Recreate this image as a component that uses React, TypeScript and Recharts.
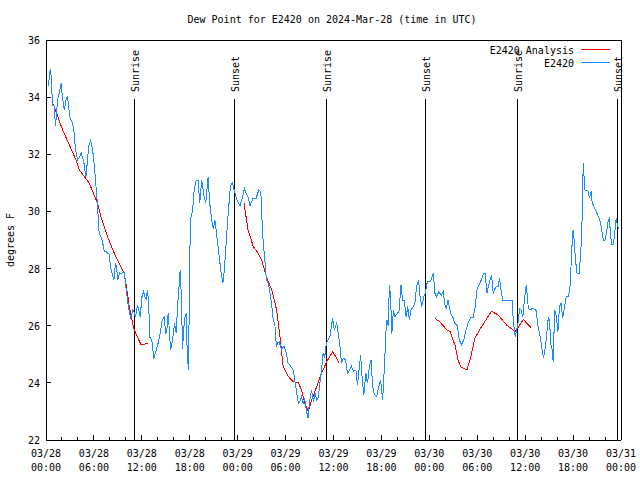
import React from "react";
import { LineChart, Line, XAxis, YAxis, ReferenceLine } from "recharts";

const FONT = "'DejaVu Sans Mono', 'Liberation Mono', monospace";
const BLUE = "#1a8cff";
const RED = "#ff0000";

// hours since 2024-03-28 00:00 UTC
const obsHours = [
  0.3, 0.45, 0.55, 0.7, 0.8, 1.0, 1.2, 1.45, 1.7, 1.9, 2.05, 2.3, 2.5, 2.7, 2.85, 3.0, 3.3, 3.5, 3.7, 3.95,
  4.2, 4.4, 4.55, 4.7, 4.85, 5.0, 5.2, 5.35, 5.6, 5.8, 5.95, 6.2, 6.45, 6.65, 6.9, 7.1, 7.3, 7.5, 7.7, 7.9,
  8.1, 8.3, 8.5, 8.7, 8.85, 9.0, 9.2, 9.4, 9.6, 9.8, 10.0, 10.2, 10.4, 10.6, 10.85, 11.0, 11.2, 11.45, 11.6, 11.8,
  12.0, 12.2, 12.4, 12.55, 12.7, 12.85, 13.0, 13.25, 13.5, 13.75, 14.05, 14.3, 14.55, 14.8, 15.0, 15.15, 15.3, 15.5, 15.6, 15.85,
  16.1, 16.3, 16.5, 16.7, 16.8, 16.95, 17.1, 17.25, 17.4, 17.55, 17.7, 17.85, 18.0, 18.15, 18.35, 18.55, 18.8, 19.05, 19.25, 19.5,
  19.75, 20.0, 20.3, 20.5, 20.75, 20.95, 21.15, 21.45, 21.7, 21.9, 22.15, 22.35, 22.6, 22.85, 23.1, 23.35, 23.6, 23.9, 24.3, 24.6,
  24.85, 25.1, 25.3, 25.55, 25.9, 26.3, 26.65, 26.9, 27.05, 27.2, 27.4, 27.6, 27.85, 28.05, 28.25, 28.45, 28.65, 28.85, 29.0, 29.2,
  29.5, 29.8, 30.05, 30.3, 30.6, 30.95, 31.2, 31.4, 31.6, 31.8, 32.0, 32.2, 32.4, 32.6, 32.8, 33.0, 33.25, 33.5, 33.7, 33.9,
  34.1, 34.3, 34.5, 34.7, 34.9, 35.1, 35.3, 35.55, 35.75, 35.9, 36.1, 36.4, 36.6, 36.8, 37.0, 37.2, 37.4, 37.55, 37.75, 38.0,
  38.25, 38.5, 38.8, 39.0, 39.2, 39.4, 39.6, 39.8, 40.05, 40.25, 40.5, 40.7, 40.9, 41.1, 41.4, 41.7, 41.9, 42.15, 42.4, 42.55,
  42.7, 42.85, 43.0, 43.15, 43.3, 43.5, 43.7, 43.9, 44.2, 44.45, 44.65, 44.85, 45.1, 45.3, 45.5, 45.7, 46.0, 46.2, 46.4, 46.65,
  46.85, 47.05, 47.3, 47.5, 47.75, 48.1, 48.3, 48.5, 48.7, 48.9, 49.2, 49.5, 49.75, 49.9, 50.1, 50.35, 50.55, 50.75, 50.95, 51.2,
  51.5, 51.75, 52.05, 52.3, 52.6, 52.9, 53.2, 53.5, 53.75, 53.95, 54.3, 54.6, 54.8, 55.0, 55.2, 55.4, 55.6, 55.8, 56.0, 56.2,
  56.4, 56.6, 56.8, 57.0, 57.2, 57.6, 58.1, 58.4, 58.5, 58.75, 58.9, 59.1, 59.3, 59.5, 59.7, 59.95, 60.15, 60.4, 60.6, 61.0,
  61.35, 61.6, 61.85, 62.05, 62.3, 62.5, 62.7, 62.9, 63.05, 63.2, 63.4, 63.5, 63.7, 63.9, 64.1, 64.3, 64.5, 64.7, 64.9, 65.15,
  65.4, 65.6, 65.7, 65.87, 66.0, 66.15, 66.3, 66.5, 66.75, 66.95, 67.1, 67.2, 67.3, 67.4, 67.5, 67.85, 68.05, 68.25, 68.4, 68.7,
  68.9, 69.15, 69.35, 69.55, 69.8, 70.0, 70.2, 70.4, 70.55, 70.7, 70.85, 71.05, 71.25, 71.4, 71.55, 71.7,
];
const obsDewF = [
  34.4, 34.8, 35.0, 34.6, 33.7, 33.7, 33.0, 33.9, 34.2, 34.5, 34.0, 33.55, 33.9, 34.05, 33.6, 33.3, 33.1, 32.8, 32.15, 31.8,
  31.9, 32.05, 31.9, 31.8, 31.5, 31.2, 31.8, 32.3, 32.5, 32.2, 31.9, 31.1, 30.2, 29.25, 29.1, 28.9, 28.6, 28.6, 28.55, 28.5,
  28.05, 27.8, 27.6, 28.2, 28.0, 27.6, 27.85, 27.83, 27.85, 27.85, 27.37, 26.9, 26.55, 26.25, 26.55, 26.5, 26.3, 26.7, 26.6, 26.3,
  27.0, 27.2, 27.0, 26.95, 27.25, 26.84, 25.6, 25.5, 24.85, 25.1, 25.4, 25.75, 26.2, 26.3, 25.7, 25.9, 26.45, 25.6, 25.15, 25.5,
  26.1, 25.75, 26.78, 27.5, 27.95, 27.0, 25.2, 25.9, 26.3, 26.44, 24.92, 24.45, 28.55, 29.8, 30.0, 30.75, 31.1, 31.1, 30.3, 31.1,
  30.6, 30.3, 31.2, 30.3, 29.7, 29.4, 29.7, 29.0, 28.4, 27.9, 27.5, 28.0, 29.1, 30.05, 30.9, 31.0, 30.7, 30.4, 30.2, 30.5,
  30.8, 30.6, 30.5, 30.2, 30.45, 30.45, 30.75, 30.7, 29.7, 28.9, 28.3, 27.6, 27.48, 27.13, 26.78, 26.2, 26.08, 25.27, 25.4, 25.44,
  25.15, 25.3, 25.09, 24.7, 24.6, 24.45, 24.0, 23.63, 23.28, 23.35, 23.52, 23.28, 23.45, 23.05, 22.76, 23.35, 23.75, 23.35, 23.63, 23.4,
  23.5, 24.0, 24.45, 25.03, 24.9, 25.38, 25.5, 25.62, 26.0, 26.26, 25.85, 26.08, 25.73, 25.3, 24.7, 24.85, 24.85, 24.74, 24.33, 24.45,
  24.57, 24.4, 24.45, 23.92, 24.45, 24.98, 24.1, 23.58, 24.33, 23.98, 24.57, 24.8, 23.9, 23.6, 23.52, 23.9, 24.1, 23.4, 24.68, 25.73,
  26.2, 26.0, 27.43, 27.0, 25.7, 26.55, 26.3, 26.4, 26.5, 27.43, 26.9, 26.9, 26.3, 26.67, 26.2, 26.55, 26.67, 26.8, 27.37, 27.6,
  27.0, 26.67, 27.0, 27.15, 27.54, 27.54, 27.66, 27.83, 27.13, 27.02, 27.19, 27.05, 27.19, 26.8, 26.6, 26.9, 26.6, 26.38, 26.3, 26.08,
  26.0, 25.5, 25.33, 25.5, 25.85, 26.14, 26.3, 26.3, 26.67, 27.25, 27.48, 27.66, 27.83, 27.83, 27.13, 27.37, 27.6, 27.77, 27.13, 27.3,
  27.37, 27.37, 27.66, 27.19, 26.9, 26.9, 26.9, 26.9, 26.2, 25.62, 25.8, 26.08, 26.6, 26.55, 26.3, 27.02, 27.43, 26.6, 26.57, 26.6,
  26.55, 26.0, 25.65, 25.3, 24.86, 25.2, 25.7, 26.3, 26.2, 25.38, 25.15, 24.74, 26.55, 26.32, 25.79, 26.67, 26.78, 26.26, 26.6, 27.02,
  27.02, 27.31, 27.83, 28.83, 29.35, 28.95, 28.3, 27.83, 27.83, 28.53, 29.35, 30.98, 31.68, 31.05, 30.75, 30.75, 30.46, 30.7, 30.3, 30.11,
  30.0, 29.82, 29.7, 29.4, 29.0, 29.0, 29.29, 29.7, 29.76, 29.12, 28.83, 28.83, 29.35, 29.76, 29.5, 29.4,
];

// analysis series, null marks a gap
const anaHours = [
  0.75, 2.09, 3.76, 4.17, 5.43, 6.47, 6.89, 7.72, 8.56, 8.97, 9.81, 10.2, 10.43, 10.85, 11.06, 11.9, 12.8,
  18.0,
  24.8, 25.3, 25.96, 26.6, 27.0, 27.6, 28.26, 28.88, 29.3, 29.7, 30.34, 30.97, 31.6, 32.0, 32.4, 32.85, 33.27, 33.9,
  34.5, 35.15, 35.9, 36.4, 36.73,
  42.0,
  48.7, 49.3, 50.2, 50.6, 51.2, 51.6, 51.9, 52.7, 53.1, 53.7, 54.55, 55.6, 55.8, 56.6, 57.7, 58.74, 58.9, 59.77, 60.8,
];
const anaDewF = [
  33.87, 32.85, 31.8, 31.45, 30.98, 30.28, 29.81, 29.11, 28.53, 28.3, 27.83, 27.13, 26.67, 26.08, 25.85, 25.33, 25.38,
  null,
  30.28, 29.35, 28.77, 28.53, 28.3, 27.72, 27.25, 26.55, 25.62, 24.57, 24.22, 24.04, 24.0, 23.75, 23.28, 23.0, 23.4, 23.87,
  24.33, 24.74, 25.09, 24.86, 24.68,
  null,
  26.26, 26.14, 25.85, 25.79, 25.33, 24.8, 24.57, 24.45, 24.8, 25.56, 25.97, 26.43, 26.5, 26.38, 26.02, 25.79, 25.85, 26.22, 25.91,
];

const sunHours = [11.05, 23.58, 35.1, 47.5, 59.02, 71.55];
const sunLabels = ["Sunrise", "Sunset", "Sunrise", "Sunset", "Sunrise", "Sunset"];

const xTicks = Array.from({ length: 37 }, (_, i) => i * 2);
const yTicks = [22, 24, 26, 28, 30, 32, 34, 36];
const dayLabels = ["03/28", "03/29", "03/30", "03/31"];
const timeLabels = ["00:00", "06:00", "12:00", "18:00"];

const obsData = obsHours.map((h, i) => ({ h, v: obsDewF[i] }));
const anaData = anaHours.map((h, i) => ({ h, v: anaDewF[i] }));

const txt = { fontFamily: FONT, fontSize: 10, fill: "#000" };

function BottomTick({ x, y, payload }: any) {
  const h = payload.value;
  const major = h % 6 === 0;
  return (
    <g>
      <line x1={x} x2={x} y1={y} y2={y - (major ? 5 : 3)} stroke="#000" shapeRendering="crispEdges" />
      {major && (
        <>
          <text x={x} y={y + 17} textAnchor="middle" {...txt}>
            {dayLabels[Math.floor(h / 24)]}
          </text>
          <text x={x} y={y + 31} textAnchor="middle" {...txt}>
            {timeLabels[(h % 24) / 6]}
          </text>
        </>
      )}
    </g>
  );
}

function TopTick({ x, y, payload }: any) {
  const major = payload.value % 6 === 0;
  return <line x1={x} x2={x} y1={y} y2={y + (major ? 5 : 3)} stroke="#000" shapeRendering="crispEdges" />;
}

function LeftTick({ x, y, payload }: any) {
  return (
    <g>
      <line x1={x} x2={x + 5} y1={y} y2={y} stroke="#000" shapeRendering="crispEdges" />
      <text x={x - 6} y={y + 4} textAnchor="end" {...txt}>
        {payload.value}
      </text>
    </g>
  );
}

function RightTick({ x, y }: any) {
  return <line x1={x} x2={x - 5} y1={y} y2={y} stroke="#000" shapeRendering="crispEdges" />;
}

function sunShape(label: string) {
  return (p: any) => {
    const top = Math.min(p.y1, p.y2);
    const bottom = Math.max(p.y1, p.y2);
    return (
      <g>
        <line x1={p.x1} x2={p.x1} y1={top + 59} y2={bottom} stroke="#000" shapeRendering="crispEdges" />
        <text
          x={p.x1 + 5}
          y={top + 52}
          transform={`rotate(-90 ${p.x1 + 5} ${top + 52})`}
          textAnchor="start"
          {...txt}
        >
          {label}
        </text>
      </g>
    );
  };
}

const axisLine = { stroke: "#000", shapeRendering: "crispEdges" };

export default function App() {
  return (
    <div style={{ position: "absolute", left: 0, top: 0, width: 640, height: 480, background: "#fff" }}>
      <LineChart width={640} height={480} margin={{ top: 0, right: 0, bottom: 0, left: 0 }}>
        <XAxis
          dataKey="h"
          type="number"
          domain={[0, 72]}
          ticks={xTicks}
          interval={0}
          height={40}
          tickSize={0}
          tickMargin={0}
          tickLine={false}
          axisLine={axisLine}
          tick={<BottomTick />}
        />
        <XAxis
          xAxisId="top"
          orientation="top"
          dataKey="h"
          type="number"
          domain={[0, 72]}
          ticks={xTicks}
          interval={0}
          height={40}
          tickSize={0}
          tickMargin={0}
          tickLine={false}
          axisLine={axisLine}
          tick={<TopTick />}
        />
        <YAxis
          type="number"
          domain={[22, 36]}
          ticks={yTicks}
          interval={0}
          width={46}
          tickSize={0}
          tickMargin={0}
          tickLine={false}
          axisLine={axisLine}
          tick={<LeftTick />}
        />
        <YAxis
          yAxisId="right"
          orientation="right"
          type="number"
          domain={[22, 36]}
          ticks={yTicks}
          interval={0}
          width={19}
          tickSize={0}
          tickMargin={0}
          tickLine={false}
          axisLine={axisLine}
          tick={<RightTick />}
        />
        {sunHours.map((h, i) => (
          <ReferenceLine key={i} x={h} stroke="#000" shape={sunShape(sunLabels[i])} />
        ))}
        <Line
          data={anaData}
          dataKey="v"
          type="linear"
          stroke={RED}
          strokeWidth={1}
          dot={false}
          connectNulls={false}
          shapeRendering="crispEdges"
          isAnimationActive={false}
        />
        <Line
          data={obsData}
          dataKey="v"
          type="linear"
          stroke={BLUE}
          strokeWidth={1}
          dot={false}
          shapeRendering="crispEdges"
          isAnimationActive={false}
        />
      </LineChart>
      <svg width={640} height={480} style={{ position: "absolute", left: 0, top: 0, pointerEvents: "none" }}>
        <text x={332} y={23} textAnchor="middle" {...txt}>
          Dew Point for E2420 on 2024-Mar-28 (time in UTC)
        </text>
        <text x={14} y={240} textAnchor="middle" transform="rotate(-90 14 240)" {...txt}>
          degrees F
        </text>
        <text x={574} y={54} textAnchor="end" {...txt}>
          E2420 Analysis
        </text>
        <line x1={581} x2={610} y1={49.5} y2={49.5} stroke={RED} />
        <text x={574} y={66.5} textAnchor="end" {...txt}>
          E2420
        </text>
        <line x1={581} x2={610} y1={62.5} y2={62.5} stroke={BLUE} />
      </svg>
    </div>
  );
}
